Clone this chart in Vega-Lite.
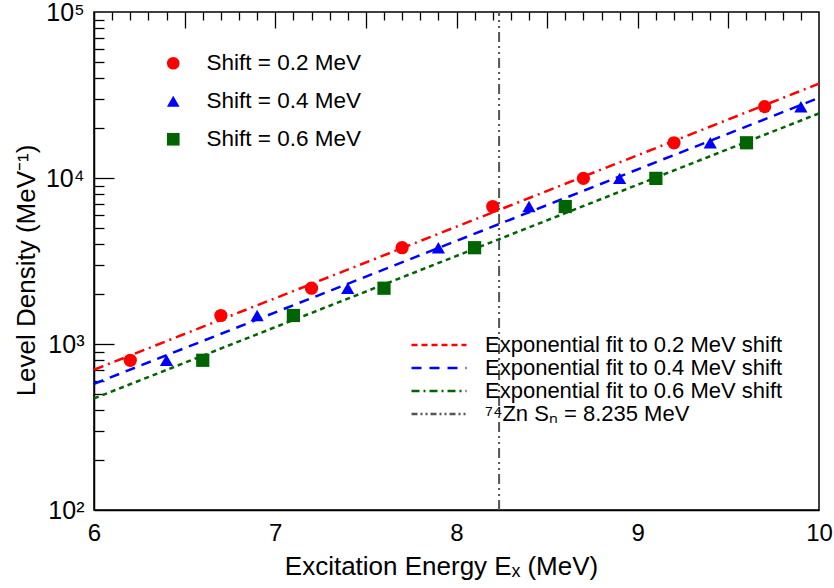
{
  "$schema": "https://vega.github.io/schema/vega-lite/v6.json",
  "width": 725,
  "height": 498,
  "autosize": "none",
  "padding": {"left": 94, "top": 12, "right": 15, "bottom": 78},
  "background": "white",
  "config": {
    "font": "Liberation Sans",
    "view": {"stroke": "black", "strokeWidth": 1.5},
    "legend": {"labelFont": "Liberation Sans", "labelColor": "black"}
  },
  "datasets": {
    "points": [
      {"series": "Shift = 0.2 MeV", "x": 6.2, "y": 798},
      {"series": "Shift = 0.2 MeV", "x": 6.7, "y": 1485},
      {"series": "Shift = 0.2 MeV", "x": 7.2, "y": 2168},
      {"series": "Shift = 0.2 MeV", "x": 7.7, "y": 3802},
      {"series": "Shift = 0.2 MeV", "x": 8.2, "y": 6730},
      {"series": "Shift = 0.2 MeV", "x": 8.7, "y": 9950},
      {"series": "Shift = 0.2 MeV", "x": 9.2, "y": 16300},
      {"series": "Shift = 0.2 MeV", "x": 9.7, "y": 26900},
      {"series": "Shift = 0.4 MeV", "x": 6.4, "y": 798},
      {"series": "Shift = 0.4 MeV", "x": 6.9, "y": 1485},
      {"series": "Shift = 0.4 MeV", "x": 7.4, "y": 2168},
      {"series": "Shift = 0.4 MeV", "x": 7.9, "y": 3802},
      {"series": "Shift = 0.4 MeV", "x": 8.4, "y": 6730},
      {"series": "Shift = 0.4 MeV", "x": 8.9, "y": 9950},
      {"series": "Shift = 0.4 MeV", "x": 9.4, "y": 16300},
      {"series": "Shift = 0.4 MeV", "x": 9.9, "y": 26900},
      {"series": "Shift = 0.6 MeV", "x": 6.6, "y": 798},
      {"series": "Shift = 0.6 MeV", "x": 7.1, "y": 1485},
      {"series": "Shift = 0.6 MeV", "x": 7.6, "y": 2168},
      {"series": "Shift = 0.6 MeV", "x": 8.1, "y": 3802},
      {"series": "Shift = 0.6 MeV", "x": 8.6, "y": 6730},
      {"series": "Shift = 0.6 MeV", "x": 9.1, "y": 9950},
      {"series": "Shift = 0.6 MeV", "x": 9.6, "y": 16300}
    ],
    "lines": [
      {"line": "fit02", "x": 6, "y": 700},
      {"line": "fit02", "x": 10, "y": 37000},
      {"line": "fit04", "x": 6, "y": 575},
      {"line": "fit04", "x": 10, "y": 30400},
      {"line": "fit06", "x": 6, "y": 470},
      {"line": "fit06", "x": 10, "y": 24500},
      {"line": "sn", "x": 8.235, "y": 100},
      {"line": "sn", "x": 8.235, "y": 100000}
    ],
    "legendLines": [
      {"label": "Exponential fit to 0.2 MeV shift", "x": 6, "y": 100},
      {"label": "Exponential fit to 0.4 MeV shift", "x": 6, "y": 100},
      {"label": "Exponential fit to 0.6 MeV shift", "x": 6, "y": 100},
      {"label": "⁷⁴Zn Sₙ = 8.235 MeV", "x": 6, "y": 100}
    ]
  },
  "resolve": {"axis": {"x": "independent", "y": "independent"}},
  "layer": [
    {
      "data": {"name": "lines"},
      "transform": [{"filter": "datum.line == 'fit02'"}],
      "mark": {"type": "line", "color": "#ff0000", "strokeWidth": 2.5, "strokeDash": [10, 5, 2, 5]},
      "encoding": {
        "x": {
          "field": "x", "type": "quantitative",
          "scale": {"domain": [6, 10], "nice": false, "zero": false},
          "axis": {"orient": "bottom", "values": [6, 7, 8, 9, 10], "format": "d", "ticks": false, "grid": false, "domainColor": "black", "domainWidth": 1.5, "labelColor": "black", "labelFlush": false, "labelPadding": 11, "labelFontSize": 24, "labelFont": "Liberation Sans", "title": "Excitation Energy Eₓ (MeV)", "titleFont": "Liberation Sans", "titleFontWeight": "normal", "titleColor": "black", "titleFontSize": 26, "titlePadding": 8, "titleX": 347}
        },
        "y": {
          "field": "y", "type": "quantitative",
          "scale": {"type": "log", "domain": [100, 100000], "nice": false},
          "axis": {"orient": "left", "values": [100, 1000, 10000, 100000], "ticks": false, "grid": false, "domainColor": "black", "domainWidth": 1.5, "labelColor": "black", "labelFlush": false, "labelOverlap": false, "labelPadding": 10,
            "labelExpr": "datum.value == 100 ? '10²' : datum.value == 1000 ? '10³' : datum.value == 10000 ? '10⁴' : '10⁵'",
            "labelFontSize": 25, "labelFont": "Liberation Sans", "title": "Level Density (MeV⁻¹)", "titleFont": "Liberation Sans", "titleFontWeight": "normal", "titleColor": "black", "titleFontSize": 26, "titlePadding": 6, "titleY": 258}
        }
      }
    },
    {
      "data": {"name": "lines"},
      "transform": [{"filter": "datum.line == 'fit04'"}],
      "mark": {"type": "line", "color": "#0000ff", "strokeWidth": 2.5, "strokeDash": [10, 7]},
      "encoding": {
        "x": {
          "field": "x", "type": "quantitative",
          "scale": {"domain": [6, 10], "nice": false, "zero": false},
          "axis": {"orient": "bottom", "values": [6.5, 7, 7.5, 8, 8.5, 9, 9.5], "ticks": false, "labels": false, "domain": false, "title": null, "grid": true, "gridColor": "#000000", "gridWidth": 1.3, "gridOpacity": 1, "gridDash": [16, 2000]}
        },
        "y": {
          "field": "y", "type": "quantitative",
          "scale": {"type": "log", "domain": [100, 100000], "nice": false},
          "axis": {"orient": "left", "values": [1000, 10000], "ticks": false, "labels": false, "domain": false, "title": null, "grid": true, "gridColor": "#000000", "gridWidth": 1.3, "gridOpacity": 1, "gridDash": [20, 2000]}
        }
      }
    },
    {
      "data": {"name": "lines"},
      "transform": [{"filter": "datum.line == 'fit06'"}],
      "mark": {"type": "line", "color": "#006400", "strokeWidth": 2.5, "strokeDash": [5, 4]},
      "encoding": {
        "x": {
          "field": "x", "type": "quantitative",
          "scale": {"domain": [6, 10], "nice": false, "zero": false},
          "axis": {"orient": "bottom", "values": [6.1,6.2,6.3,6.4,6.6,6.7,6.8,6.9,7.1,7.2,7.3,7.4,7.6,7.7,7.8,7.9,8.1,8.2,8.3,8.4,8.6,8.7,8.8,8.9,9.1,9.2,9.3,9.4,9.6,9.7,9.8,9.9], "ticks": false, "labels": false, "domain": false, "title": null, "grid": true, "gridColor": "#000000", "gridWidth": 1.3, "gridOpacity": 1, "gridDash": [8, 2000]}
        },
        "y": {
          "field": "y", "type": "quantitative",
          "scale": {"type": "log", "domain": [100, 100000], "nice": false},
          "axis": {"orient": "left", "values": [200,300,400,500,600,700,800,900,2000,3000,4000,5000,6000,7000,8000,9000,20000,30000,40000,50000,60000,70000,80000,90000], "ticks": false, "labels": false, "domain": false, "title": null, "grid": true, "gridColor": "#000000", "gridWidth": 1.3, "gridOpacity": 1, "gridDash": [10, 2000]}
        }
      }
    },
    {
      "data": {"name": "lines"},
      "transform": [{"filter": "datum.line == 'sn'"}],
      "mark": {"type": "line", "color": "#555555", "strokeWidth": 2, "strokeDash": [10, 4, 2, 4, 2, 4]},
      "encoding": {
        "x": {"field": "x", "type": "quantitative", "scale": {"domain": [6, 10], "nice": false, "zero": false}, "axis": null},
        "y": {"field": "y", "type": "quantitative", "scale": {"type": "log", "domain": [100, 100000], "nice": false}, "axis": null}
      }
    },
    {
      "data": {"name": "legendLines"},
      "mark": {"type": "line", "strokeWidth": 2.5},
      "encoding": {
        "x": {"field": "x", "type": "quantitative", "scale": {"domain": [6, 10], "nice": false, "zero": false}, "axis": null},
        "y": {"field": "y", "type": "quantitative", "scale": {"type": "log", "domain": [100, 100000], "nice": false}, "axis": null},
        "stroke": {
          "field": "label", "type": "nominal",
          "scale": {"domain": ["Exponential fit to 0.2 MeV shift", "Exponential fit to 0.4 MeV shift", "Exponential fit to 0.6 MeV shift", "⁷⁴Zn Sₙ = 8.235 MeV"], "range": ["#ff0000", "#0000ff", "#006400", "#555555"]},
          "legend": {"title": null, "orient": "none", "legendX": 334, "legendY": 322, "labelFontSize": 22, "symbolType": "M-3,0H3", "symbolSize": 336, "symbolStrokeWidth": 2.5, "labelOffset": 35, "rowPadding": 1, "labelLimit": 500}
        },
        "strokeDash": {
          "field": "label", "type": "nominal",
          "scale": {"domain": ["Exponential fit to 0.2 MeV shift", "Exponential fit to 0.4 MeV shift", "Exponential fit to 0.6 MeV shift", "⁷⁴Zn Sₙ = 8.235 MeV"], "range": [[6, 4], [10, 8], [8, 4, 2, 4], [6, 3, 2, 3, 2, 3]]},
          "legend": {"title": null, "orient": "none", "legendX": 334, "legendY": 322, "labelFontSize": 22, "symbolType": "M-3,0H3", "symbolSize": 336, "symbolStrokeWidth": 2.5, "labelOffset": 35, "rowPadding": 1, "labelLimit": 500}
        }
      }
    },
    {
      "data": {"name": "points"},
      "mark": {"type": "point", "filled": true, "opacity": 1, "size": 175},
      "encoding": {
        "x": {"field": "x", "type": "quantitative", "scale": {"domain": [6, 10], "nice": false, "zero": false}, "axis": null},
        "y": {"field": "y", "type": "quantitative", "scale": {"type": "log", "domain": [100, 100000], "nice": false}, "axis": null},
        "color": {
          "field": "series", "type": "nominal",
          "scale": {"domain": ["Shift = 0.2 MeV", "Shift = 0.4 MeV", "Shift = 0.6 MeV"], "range": ["#ff0000", "#0000ff", "#006400"]},
          "legend": {"title": null, "orient": "none", "legendX": 68, "legendY": 40, "labelFontSize": 22.5, "symbolSize": 160, "labelOffset": 22, "rowPadding": 15, "symbolOpacity": 1, "labelLimit": 400}
        },
        "shape": {
          "field": "series", "type": "nominal",
          "scale": {"domain": ["Shift = 0.2 MeV", "Shift = 0.4 MeV", "Shift = 0.6 MeV"], "range": ["circle", "triangle-up", "square"]},
          "legend": {"title": null, "orient": "none", "legendX": 68, "legendY": 40, "labelFontSize": 22.5, "symbolSize": 160, "labelOffset": 22, "rowPadding": 15, "symbolOpacity": 1, "labelLimit": 400}
        }
      }
    }
  ]
}
